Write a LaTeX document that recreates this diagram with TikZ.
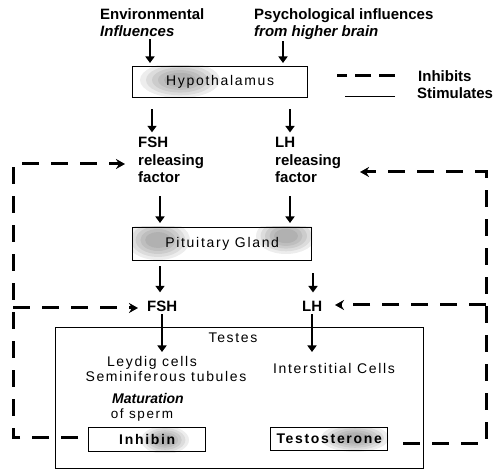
\documentclass[tikz,border=0pt]{standalone}
\usepackage{fontspec}
\setmainfont{Liberation Sans}
\newfontfamily\spacedfont[LetterSpace=12]{Liberation Sans}
\usetikzlibrary{arrows.meta,backgrounds}
% soft grey patch: centre, x radius, y radius
\newcommand\greypatch[3]{%
  \foreach \s in {1,0.85,0.7,0.55,0.4}
    \fill[black, opacity=0.07] (#1) ellipse ({\s*#2} and {\s*#3});}
\begin{document}
\begin{tikzpicture}[x=1pt,y=-1pt,
  lab/.style={inner sep=0pt, anchor=base west, font=\fontsize{15}{17}\selectfont\bfseries},
  intext/.style={inner sep=0pt, anchor=base, font=\fontsize{14}{17}\spacedfont},
  box/.style={draw, line width=1.4pt, inner sep=0pt, anchor=north west, font=\fontsize{14}{17}\spacedfont},
  stim/.style={line width=2.6pt, -{Triangle[width=9pt,length=6.5pt]}},
  inhib/.style={line width=3pt, dash pattern=on 17pt off 12pt},
  inhibarrow/.style={inhib, -{Stealth[width=10pt,length=9pt]}}
]
\useasboundingbox (0,0) rectangle (501,470);

% top inputs
\node[lab] (env1) at (100,20) {Environmental};
\node[lab] (env2) at (100,37) {\itshape Influences};
\node[lab] (psy1) at (254,20) {Psychological influences};
\node[lab] (psy2) at (254,37) {\itshape from higher brain};

% boxed organs
\node[box, minimum width=175pt, minimum height=31pt] (hypo) at (132,66) {Hypothalamus};
\node[box, minimum width=179pt, minimum height=33pt] (pit) at (132,227) {Pituitary Gland};
\node[draw, line width=1.1pt, inner sep=0pt, anchor=north west,
      minimum width=368pt, minimum height=141pt] (testes) at (55,327) {};
\node[box, font=\fontsize{14}{17}\spacedfont\bfseries, minimum width=117pt, minimum height=24pt] (inhibin) at (88,427) {Inhibin};
\node[box, font=\fontsize{14}{17}\spacedfont\bfseries, minimum width=117pt, minimum height=23pt] (testo) at (270,427) {Testosterone};

% soft grey patches inside the boxes
\begin{scope}[on background layer]
  \begin{scope}
    \clip (hypo.north west) rectangle (hypo.south east);
    \greypatch{180,80}{40pt}{18pt}
  \end{scope}
  \begin{scope}
    \clip (pit.north west) rectangle (pit.south east);
    \greypatch{158,240}{32pt}{20pt}
    \greypatch{286,236}{30pt}{18pt}
  \end{scope}
  \begin{scope}
    \clip (inhibin.north west) rectangle (inhibin.south east);
    \greypatch{165,440}{24pt}{14pt}
  \end{scope}
  \begin{scope}
    \clip (testo.north west) rectangle (testo.south east);
    \greypatch{355,438}{34pt}{14pt}
  \end{scope}
\end{scope}

% releasing factors
\node[lab] (fshA) at (138,148) {FSH};
\node[lab] (fshB) at (138,166) {releasing};
\node[lab] (fshC) at (138,183) {factor};
\node[lab] (lhA) at (275,148) {LH};
\node[lab] (lhB) at (275,166) {releasing};
\node[lab] (lhC) at (275,183) {factor};

% pituitary hormones
\node[lab] (fsh) at (147,312) {FSH};
\node[lab] (lh) at (302,312) {LH};

% testes contents
\node[intext] (testesLabel) at (233,343) {Testes};
\node[intext] (leydig) at (152,367) {Leydig cells};
\node[intext] (semi) at (166,382) {Seminiferous tubules};
\node[intext, font=\fontsize{14}{16}\selectfont\bfseries\itshape] (mat) at (148,404) {Maturation};
\node[intext, font=\fontsize{13.5}{16}\spacedfont] (sperm) at (142,419) {of sperm};
\node[intext] (inter) at (334,374) {Interstitial Cells};

% legend
\node[lab] (legInh) at (418,82) {Inhibits};
\node[lab] (legSti) at (417,99) {Stimulates};
\draw[line width=3pt, dash pattern=on 16pt off 8pt] ([xshift=-23pt,yshift=1pt]legInh.west) -- ++(-58,0);
\draw[line width=1.2pt] ([xshift=-22pt,yshift=-3pt]legSti.west) -- ++(-50,0);

% arrow columns
\coordinate (cEnv) at (150,0);
\coordinate (cPsy) at (283,0);
\coordinate (cF1) at (152,0);
\coordinate (cL1) at (290,0);
\coordinate (cF2) at (160,0);
\coordinate (cL3) at (313,0);
\coordinate (cF4) at (162,0);
\coordinate (cL4) at (312,0);

% stimulating arrows
\draw[stim] ([yshift=-2pt]env2.south -| cEnv) -- ([yshift=3pt]hypo.north -| cEnv);
\draw[stim] ([yshift=-1pt]psy2.south -| cPsy) -- ([yshift=3pt]hypo.north -| cPsy);
\draw[stim] ([yshift=-11pt]hypo.south -| cF1) -- ([yshift=5pt]fshA.north -| cF1);
\draw[stim] ([yshift=-11pt]hypo.south -| cL1) -- ([yshift=5pt]lhA.north -| cL1);
\draw[stim] ([yshift=-13pt]fshC.south -| cF2) -- ([yshift=4pt]pit.north -| cF2);
\draw[stim] ([yshift=-13pt]lhC.south -| cL1) -- ([yshift=4pt]pit.north -| cL1);
\draw[stim] ([yshift=-5pt]pit.south -| cF2) -- ([yshift=9pt]fsh.north -| cF2);
\draw[stim] ([yshift=-12pt]pit.south -| cL3) -- ([yshift=9pt]lh.north -| cL3);
\draw[stim] ([yshift=-2pt]fsh.south -| cF4) -- ([yshift=-25pt]testes.north -| cF4);
\draw[stim] ([yshift=-2pt]lh.south -| cL4) -- ([yshift=-25pt]testes.north -| cL4);

% inhibitory feedback loops
\coordinate (lTop) at (13,164);
\coordinate (lMid) at (13,308);
\coordinate (lEndA) at (125,164);
\coordinate (lEndB) at (138,308);
\coordinate (rTop) at (486,172);
\coordinate (rMid) at (486,305);
\coordinate (rEndA) at (360,172);
\coordinate (rEndB) at (335,305);

\draw[inhibarrow] ([xshift=-10pt,yshift=2pt]inhibin.west) -| (lTop) -- (lEndA);
\draw[inhibarrow] (lMid) -- (lEndB);
\draw[inhibarrow] ([xshift=15pt,yshift=-4pt]testo.east) -| (rTop) -- (rEndA);
\draw[inhibarrow] (rMid) -- (rEndB);
\end{tikzpicture}
\end{document}
